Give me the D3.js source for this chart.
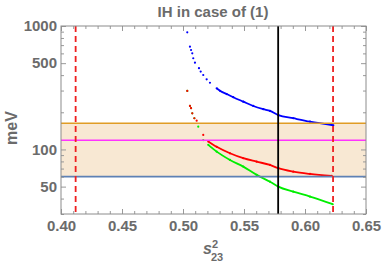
<!DOCTYPE html>
<html>
<head>
<meta charset="utf-8">
<script src="https://cdn.jsdelivr.net/npm/d3@7"></script>
<style>
  body { margin: 0; background: #fff; }
  text { font-family: "Liberation Sans", Arial, sans-serif; font-weight: bold; fill: #6b6b6b; }
</style>
</head>
<body>
<svg id="chart"></svg>
<script>
// values (x = s23^2, y = meV)
const blueS = [0.5035, 0.5057, 0.5066, 0.5076, 0.5084, 0.5098, 0.5131, 0.5145, 0.5166, 0.5194, 0.5221, 0.5276,
               0.5303, 0.5358, 0.5412, 0.5494, 0.5576, 0.5658, 0.5713, 0.5781, 0.5904, 0.6041, 0.6232];
const blueV = [889, 680, 639, 601, 548, 505, 455, 427, 401, 370, 347, 313,
               299, 281, 265, 244, 225, 212, 205, 190, 179, 168, 157];
const redS = [0.5035, 0.5057, 0.5066, 0.5076, 0.5093, 0.5112, 0.5166, 0.5207, 0.5276, 0.5385, 0.5494,
              0.5604, 0.5713, 0.5781, 0.5904, 0.6041, 0.6219];
const redV = [298, 225, 216, 196, 179, 171, 131, 116, 105, 93.1, 84.9,
              79.6, 74.9, 70.5, 66.1, 63.3, 61.0];
const greenS = [0.5035, 0.5057, 0.5066, 0.5076, 0.5093, 0.5125, 0.5166, 0.5207, 0.5276, 0.5385, 0.5494,
                0.5604, 0.5713, 0.5781, 0.5904, 0.6041, 0.6227];
const greenV = [298, 225, 216, 196, 179, 153, 119, 109, 96, 82.2, 72.6,
                62.2, 54.8, 50.0, 45.5, 41.5, 36.0];

const bandLow = 60.2, bandHigh = 163, magentaLevel = 118.7;
const redDashed = [0.412, 0.623];
const blackLine = 0.578;

const xMajor = [0.40, 0.45, 0.50, 0.55, 0.60, 0.65];
const xMinor = d3.range(40, 66).map(d => d / 100);
const yMajor = [50, 100, 500, 1000];
const yMinor = [30, 40, 60, 70, 80, 90, 200, 300, 400, 600, 700, 800, 900];

const w = 382, h = 262;
const margin = {top: 26, right: 16, bottom: 48, left: 61};
const width = w - margin.left - margin.right;
const height = h - margin.top - margin.bottom;

let svg = d3.select('#chart').attr('width', w).attr('height', h);
let g = svg.append('g').attr('transform', `translate(${margin.left},${margin.top})`);

let x = d3.scaleLinear().domain([0.40, 0.65]).range([0, width]);
let y = d3.scaleLog().domain([30, 1000]).range([height, 0]);

// shaded band and horizontal levels
g.append('rect')
  .attr('x', 0).attr('width', width)
  .attr('y', y(bandHigh)).attr('height', y(bandLow) - y(bandHigh))
  .attr('fill', '#f8e8d3');

function series(S, V) { return S.map((s, i) => ({s: s, v: V[i]})); }
let allSeries = [
  {data: series(greenS, greenV), color: '#00ee00', dense: 7},
  {data: series(redS, redV), color: '#ff0000', dense: 7},
  {data: series(blueS, blueV), color: '#0000ff', dense: 11}
];

let line = d3.line().x(d => x(d.s)).y(d => y(d.v)).curve(d3.curveMonotoneX);

allSeries.forEach(function(sr) {
  g.append('path')
    .datum(sr.data.slice(sr.dense))
    .attr('d', line)
    .attr('fill', 'none')
    .attr('stroke', sr.color)
    .attr('stroke-width', 1.8);
  g.selectAll(null)
    .data(sr.data)
    .enter().append('circle')
    .attr('cx', d => x(d.s))
    .attr('cy', d => y(d.v))
    .attr('r', 1.1)
    .attr('fill', sr.color);
});

[[bandHigh, '#e09c24'], [magentaLevel, '#ff33ff'], [bandLow, '#5e81b5']].forEach(function(l) {
  g.append('line')
    .attr('x1', 0).attr('x2', width)
    .attr('y1', y(l[0])).attr('y2', y(l[0]))
    .attr('stroke', l[1]).attr('stroke-width', 1.6);
});

redDashed.forEach(function(v) {
  g.append('line')
    .attr('x1', x(v)).attr('x2', x(v))
    .attr('y1', 0).attr('y2', height)
    .attr('stroke', '#ee2020').attr('stroke-width', 1.8)
    .attr('stroke-dasharray', '6,4');
});

g.append('line')
  .attr('x1', x(blackLine)).attr('x2', x(blackLine))
  .attr('y1', 0).attr('y2', height)
  .attr('stroke', '#000').attr('stroke-width', 1.8);

// frame ticks (pointing inward)
const tickColor = '#999';
function styleAxis(sel) {
  sel.select('.domain').remove();
  sel.selectAll('line').attr('stroke', tickColor);
}

g.append('g').attr('transform', `translate(0,${height})`)
  .call(d3.axisBottom(x).tickValues(xMinor).tickSize(-3).tickFormat(''))
  .call(styleAxis);
g.append('g').attr('transform', `translate(0,${height})`)
  .call(d3.axisBottom(x).tickValues(xMajor).tickSize(-5).tickPadding(6).tickFormat(d3.format('.2f')))
  .call(styleAxis)
  .selectAll('text').style('font-size', '15px').attr('fill', null);
g.append('g')
  .call(d3.axisTop(x).tickValues(xMinor).tickSize(-3).tickFormat(''))
  .call(styleAxis);
g.append('g')
  .call(d3.axisTop(x).tickValues(xMajor).tickSize(-5).tickFormat(''))
  .call(styleAxis);

g.append('g')
  .call(d3.axisLeft(y).tickValues(yMinor).tickSize(-3).tickFormat(''))
  .call(styleAxis);
g.append('g')
  .call(d3.axisLeft(y).tickValues(yMajor).tickSize(-5).tickPadding(4).tickFormat(d3.format('d')))
  .call(styleAxis)
  .selectAll('text').style('font-size', '15px').attr('fill', null);
g.append('g').attr('transform', `translate(${width},0)`)
  .call(d3.axisRight(y).tickValues(yMinor).tickSize(-3).tickFormat(''))
  .call(styleAxis);
g.append('g').attr('transform', `translate(${width},0)`)
  .call(d3.axisRight(y).tickValues(yMajor).tickSize(-5).tickFormat(''))
  .call(styleAxis);

g.append('rect')
  .attr('width', width).attr('height', height)
  .attr('fill', 'none').attr('stroke', '#8c8c8c').attr('stroke-width', 1);

// title and axis labels
svg.append('text')
  .attr('x', 213).attr('y', 17)
  .attr('text-anchor', 'middle')
  .style('font-size', '15px')
  .text('IH in case of (1)');

svg.append('text')
  .attr('transform', 'translate(17,128) rotate(-90)')
  .attr('text-anchor', 'middle')
  .style('font-size', '16px')
  .text('meV');

let xl = svg.append('text').attr('x', 203).attr('y', 254).style('font-size', '16px');
xl.append('tspan').style('font-style', 'italic').text('s');
xl.append('tspan').attr('x', 212).attr('y', 248).style('font-size', '11px').text('2');
xl.append('tspan').attr('x', 211).attr('y', 261).style('font-size', '11px').text('23');
</script>
</body>
</html>
